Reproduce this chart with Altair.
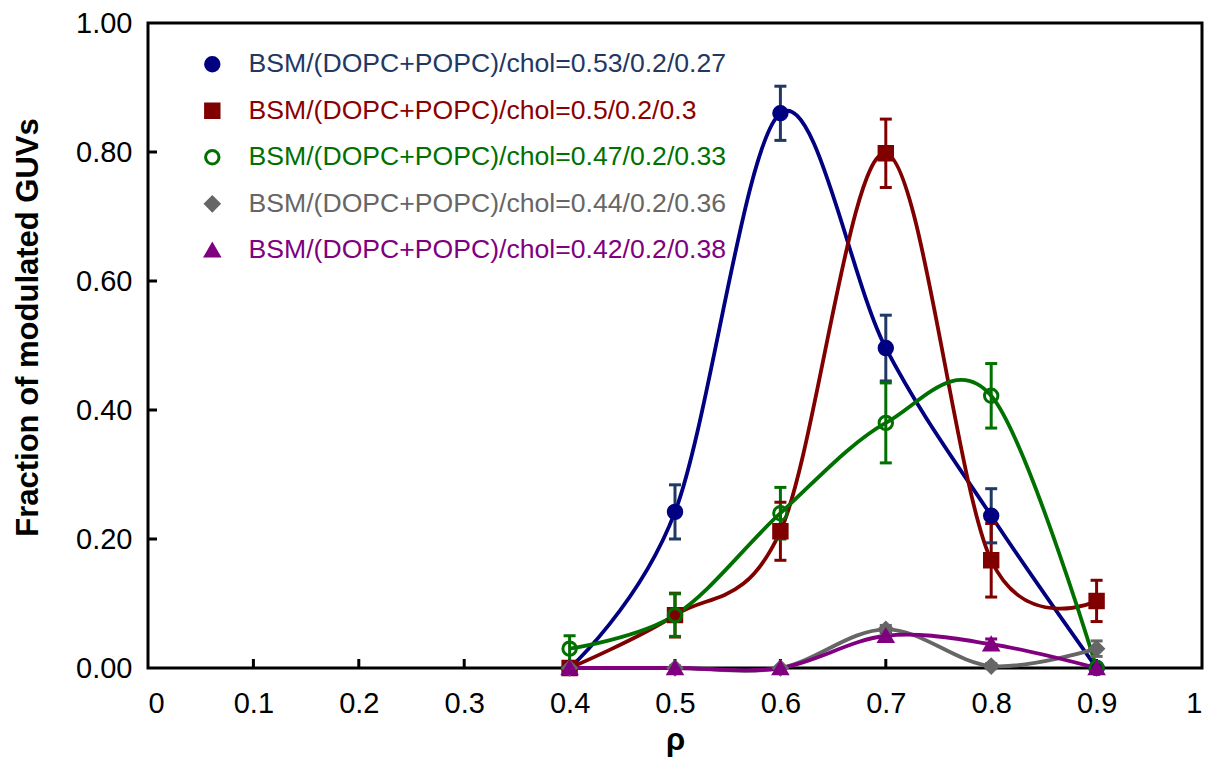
import altair as alt
import pandas as pd

rho = [0.4, 0.5, 0.6, 0.7, 0.8, 0.9]

series_names = [
    "BSM/(DOPC+POPC)/chol=0.53/0.2/0.27",
    "BSM/(DOPC+POPC)/chol=0.5/0.2/0.3",
    "BSM/(DOPC+POPC)/chol=0.47/0.2/0.33",
    "BSM/(DOPC+POPC)/chol=0.44/0.2/0.36",
    "BSM/(DOPC+POPC)/chol=0.42/0.2/0.38",
]
line_colors = ["#000080", "#800000", "#007000", "#666666", "#800080"]
err_colors = ["#1f3864", "#800000", "#007000", "#666666", "#800080"]
label_colors = ["#1f3864", "#8b0000", "#007000", "#666666", "#800080"]
fill_colors = ["#000080", "#800000", "transparent", "#666666", "#800080"]
shapes = ["circle", "square", "circle", "diamond", "triangle-up"]

frac_053 = [0.0, 0.242, 0.860, 0.496, 0.236, 0.0]
err_053 = [0.0, 0.042, 0.042, 0.051, 0.042, 0.0]
frac_050 = [0.0, 0.082, 0.212, 0.798, 0.167, 0.104]
err_050 = [0.0, 0.034, 0.045, 0.053, 0.057, 0.032]
frac_047 = [0.030, 0.082, 0.240, 0.380, 0.422, 0.0]
err_047 = [0.020, 0.033, 0.040, 0.062, 0.050, 0.0]
frac_044 = [0.0, 0.0, 0.0, 0.060, 0.003, 0.030]
err_044 = [0.0, 0.0, 0.0, 0.006, 0.004, 0.012]
frac_042 = [0.0, 0.0, 0.0, 0.050, 0.037, 0.0]
err_042 = [0.0, 0.003, 0.0, 0.006, 0.008, 0.0]

x_tick_values = [0, 0.1, 0.2, 0.3, 0.4, 0.5, 0.6, 0.7, 0.8, 0.9, 1.0]
y_tick_values = [0, 0.2, 0.4, 0.6, 0.8, 1.0]
x_inner_ticks = [0.1, 0.2, 0.3, 0.4, 0.5, 0.6, 0.7, 0.8, 0.9]
y_inner_ticks = [0.2, 0.4, 0.6, 0.8]

fracs = [frac_053, frac_050, frac_047, frac_044, frac_042]
errs = [err_053, err_050, err_047, err_044, err_042]

rows = []
for name, fr, er in zip(series_names, fracs, errs):
    for x, y, e in zip(rho, fr, er):
        rows.append({"series": name, "rho": x, "frac": y, "err": e,
                     "lo": y - e, "hi": y + e})
df = pd.DataFrame(rows)
df_err = df[df["err"] > 0]

FONT = "Liberation Sans"

xs = alt.Scale(domain=[0, 1], nice=False, zero=False)
ys = alt.Scale(domain=[0, 1], nice=False)

x_enc = alt.X("rho:Q", scale=xs, title="ρ",
              axis=alt.Axis(values=x_tick_values, format="~g", grid=False))
y_enc = alt.Y("frac:Q", scale=ys, title="Fraction of modulated GUVs",
              axis=alt.Axis(values=y_tick_values, format=".2f", grid=False,
                            titleY=304))

color_scale = alt.Scale(domain=series_names, range=line_colors)
err_scale = alt.Scale(domain=series_names, range=err_colors)

label_color_expr = " : ".join(
    f"datum.label == '{n}' ? '{c}'" for n, c in zip(series_names, label_colors)
) + " : 'black'"

legend = alt.Legend(
    title=None, orient="none", legendX=51, legendY=28, padding=0,
    labelFont=FONT, labelFontSize=26.6, labelLimit=1000, labelOffset=23,
    symbolSize=180, symbolStrokeWidth=3, rowPadding=19.5,
    labelColor=alt.ExprRef(expr=label_color_expr),
)

lines = alt.Chart(df).mark_line(interpolate="cardinal", strokeWidth=3.8).encode(
    x=x_enc, y=y_enc,
    color=alt.Color("series:N", scale=color_scale, legend=legend),
)

rules = alt.Chart(df_err).mark_rule(strokeWidth=3).encode(
    x="rho:Q", y="lo:Q", y2="hi:Q",
    stroke=alt.Stroke("series:N", scale=err_scale, legend=None),
)
caps_lo = alt.Chart(df_err).mark_rule(strokeWidth=3, xOffset=-6, x2Offset=6).encode(
    x="rho:Q", x2="rho:Q", y="lo:Q",
    stroke=alt.Stroke("series:N", scale=err_scale, legend=None),
)
caps_hi = alt.Chart(df_err).mark_rule(strokeWidth=3, xOffset=-6, x2Offset=6).encode(
    x="rho:Q", x2="rho:Q", y="hi:Q",
    stroke=alt.Stroke("series:N", scale=err_scale, legend=None),
)

points = alt.Chart(df).mark_point(size=180, strokeWidth=3, opacity=1).encode(
    x="rho:Q", y="frac:Q",
    color=alt.Color("series:N", scale=color_scale, legend=legend),
    fill=alt.Fill("series:N", scale=alt.Scale(domain=series_names, range=fill_colors), legend=legend),
    shape=alt.Shape("series:N", scale=alt.Scale(domain=series_names, range=shapes), legend=legend),
)

xt = alt.Chart(pd.DataFrame({"t": x_inner_ticks})).mark_rule(
    color="black", strokeWidth=3, y2Offset=-9).encode(
    x="t:Q", y=alt.datum(0), y2=alt.datum(0))
yt = alt.Chart(pd.DataFrame({"t": y_inner_ticks})).mark_rule(
    color="black", strokeWidth=3, x2Offset=9).encode(
    y="t:Q", x=alt.datum(0), x2=alt.datum(0))

chart = alt.layer(xt, yt, lines, rules, caps_lo, caps_hi, points).properties(
    width=1054, height=645,
    autosize=alt.AutoSizeParams(type="none"),
    padding={"left": 140, "top": 15, "right": 5, "bottom": 92},
).configure_view(
    stroke="black", strokeWidth=3
).configure_axis(
    domain=False, ticks=False, labelFont=FONT, labelFontSize=29, labelColor="black",
    titleFont=FONT, titleFontSize=31, titleFontWeight="bold", titleColor="black",
).configure_axisY(
    labelPadding=16, titlePadding=31,
).configure_axisX(
    labelPadding=21, titlePadding=7,
)

chart.save("out.html", embed_options={"renderer": "svg", "actions": False})
